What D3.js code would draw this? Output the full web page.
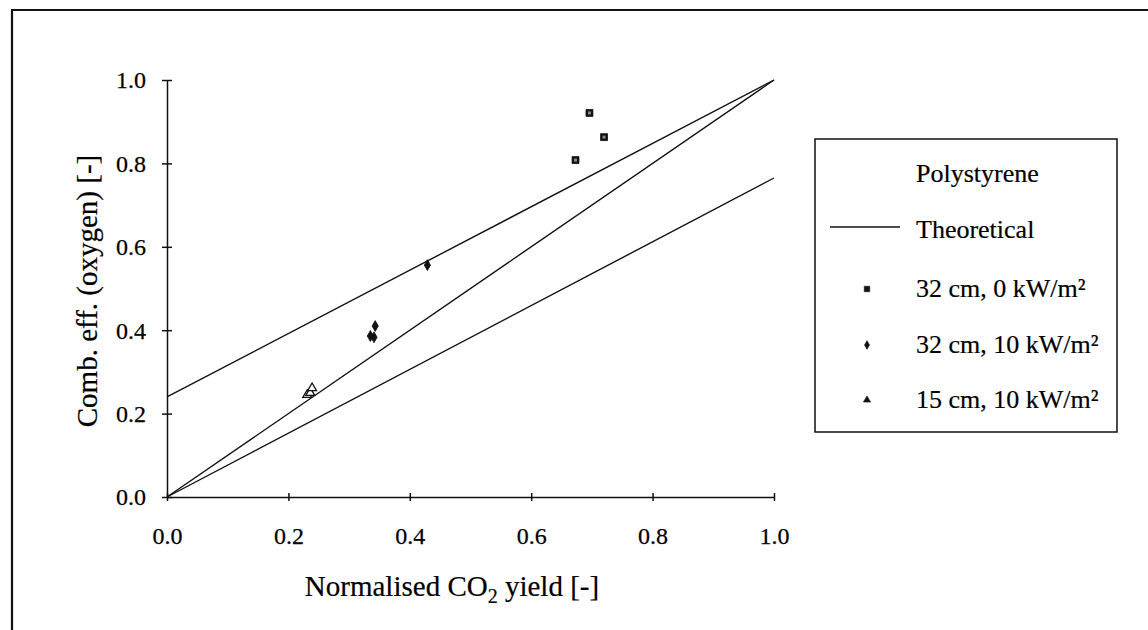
<!DOCTYPE html>
<html>
<head>
<meta charset="utf-8">
<script src="https://cdn.jsdelivr.net/npm/d3@7"></script>
<style>
  html, body { margin: 0; padding: 0; background: #fff; }
  svg { display: block; }
  text { font-family: "Liberation Serif", "Times New Roman", serif; fill: #000; }
</style>
</head>
<body>
<svg id="chart" width="1148" height="630"></svg>
<script>
// ---- data ----
const xTicks = [0.0, 0.2, 0.4, 0.6, 0.8, 1.0];
const yTicks = [0.0, 0.2, 0.4, 0.6, 0.8, 1.0];
const xTitle = "Normalised CO";
const yTitle = "Comb. eff. (oxygen) [-]";
const legendTitle = "Polystyrene";
// theoretical lines: [x, y] pairs
const theoUpper = [[0, 0.24], [1, 1]];
const theoMiddle = [[0, 0], [1, 1]];
const theoLower = [[0, 0], [1, 0.765]];
const s32_0_x = [0.673, 0.696, 0.720];
const s32_0_y = [0.808, 0.921, 0.863];
const s32_10_x = [0.335, 0.341, 0.343, 0.429];
const s32_10_y = [0.386, 0.383, 0.410, 0.556];
const s15_10_x = [0.231, 0.236, 0.239];
const s15_10_y = [0.245, 0.250, 0.261];
const seriesNames = ["32 cm, 0 kW/m\u00B2", "32 cm, 10 kW/m\u00B2", "15 cm, 10 kW/m\u00B2"];

// ---- layout ----
const FONT = "'Liberation Serif', 'Times New Roman', serif";
const svg = d3.select("#chart");
const x = d3.scaleLinear().domain([0, 1]).range([167, 774]);
const y = d3.scaleLinear().domain([0, 1]).range([497, 80]);

// outer frame (top and left edges of the scanned figure)
svg.append("line").attr("x1", 11).attr("x2", 1148).attr("y1", 10).attr("y2", 10)
  .attr("stroke", "#111").attr("stroke-width", 2.2);
svg.append("line").attr("x1", 12).attr("x2", 12).attr("y1", 10).attr("y2", 630)
  .attr("stroke", "#111").attr("stroke-width", 2.2);

// axes
const xAxis = d3.axisBottom(x).tickValues(xTicks).tickFormat(d3.format(".1f"))
  .tickSizeInner(4).tickSizeOuter(0).tickPadding(30);
const gx = svg.append("g").attr("transform", `translate(0,${y(0)})`).call(xAxis);
gx.attr("font-family", FONT);
gx.selectAll(".tick line").attr("y1", -4).attr("y2", 4);
gx.selectAll("text").attr("font-size", 24).attr("dy", 0).attr("y", 47)
  .attr("stroke", "#000").attr("stroke-width", 0.25);

const yAxis = d3.axisLeft(y).tickValues(yTicks).tickFormat(d3.format(".1f"))
  .tickSizeInner(5).tickSizeOuter(0).tickPadding(22);
const gy = svg.append("g").attr("transform", `translate(${x(0)},0)`).call(yAxis);
gy.attr("font-family", FONT);
gy.selectAll(".tick line").attr("x1", -5).attr("x2", 5);
gy.selectAll("text").attr("font-size", 24).attr("x", -21).attr("dy", "0.33em")
  .attr("stroke", "#000").attr("stroke-width", 0.25);

svg.selectAll(".domain, .tick line").attr("stroke", "#111").attr("stroke-width", 1.5);

// theoretical lines
const line = d3.line().x(d => x(d[0])).y(d => y(d[1]));
[theoUpper, theoMiddle, theoLower].forEach(l => {
  svg.append("path").attr("d", line(l)).attr("fill", "none")
    .attr("stroke", "#111").attr("stroke-width", 1.4);
});

// markers
function drawMarkers(xs, ys, type) {
  const sym = type === "square" ? d3.symbolSquare : type === "diamond" ? d3.symbolDiamond : d3.symbolTriangle;
  const size = type === "square" ? 48 : type === "diamond" ? 34 : 34;
  svg.append("g").selectAll("path").data(xs.map((v, i) => [v, ys[i]])).join("path")
    .attr("transform", d => `translate(${x(d[0])},${y(d[1])})`)
    .attr("d", d3.symbol(sym, size))
    .attr("fill", type === "triangle" ? "#fff" : "#111")
    .attr("stroke", "#111").attr("stroke-width", type === "triangle" ? 1.3 : 0.8);
  if (type === "square") {
    svg.append("g").selectAll("rect").data(xs.map((v, i) => [v, ys[i]])).join("rect")
      .attr("x", d => x(d[0]) - 1.5).attr("y", d => y(d[1]) - 1.5)
      .attr("width", 3).attr("height", 3).attr("fill", "#888");
  }
}
drawMarkers(s32_0_x, s32_0_y, "square");
drawMarkers(s32_10_x, s32_10_y, "diamond");
drawMarkers(s15_10_x, s15_10_y, "triangle");

// axis titles
const xt = svg.append("text").attr("x", 452).attr("y", 596).attr("text-anchor", "middle")
  .attr("font-size", 29).attr("stroke", "#000").attr("stroke-width", 0.2);
xt.append("tspan").text(xTitle);
xt.append("tspan").attr("font-size", 20).attr("dy", 7).text("2");
xt.append("tspan").attr("dy", -7).text(" yield [-]");

svg.append("text").attr("transform", "translate(97,291) rotate(-90)")
  .attr("text-anchor", "middle").attr("font-size", 29)
  .attr("stroke", "#000").attr("stroke-width", 0.2).text(yTitle);

// legend
const lg = svg.append("g");
lg.append("rect").attr("x", 815).attr("y", 139).attr("width", 302).attr("height", 293)
  .attr("fill", "#fff").attr("stroke", "#111").attr("stroke-width", 1.5);
lg.append("text").attr("x", 916).attr("y", 182).attr("font-size", 26)
  .attr("stroke", "#000").attr("stroke-width", 0.2).text(legendTitle);
lg.append("line").attr("x1", 830).attr("x2", 900).attr("y1", 227).attr("y2", 227)
  .attr("stroke", "#111").attr("stroke-width", 1.4);
lg.append("text").attr("x", 916).attr("y", 238).attr("font-size", 26)
  .attr("stroke", "#000").attr("stroke-width", 0.2).text("Theoretical");
const legendSyms = [d3.symbolSquare, d3.symbolDiamond, d3.symbolTriangle];
const legendY = [297, 353, 408];
seriesNames.forEach((name, i) => {
  lg.append("path").attr("transform", `translate(867,${legendY[i] - 8})`)
    .attr("d", d3.symbol(legendSyms[i], i === 0 ? 30 : 22))
    .attr("fill", "#111").attr("stroke", "#111").attr("stroke-width", 0.6);
  lg.append("text").attr("x", 916).attr("y", legendY[i]).attr("font-size", 26)
    .attr("stroke", "#000").attr("stroke-width", 0.2).text(name);
});
</script>
</body>
</html>
